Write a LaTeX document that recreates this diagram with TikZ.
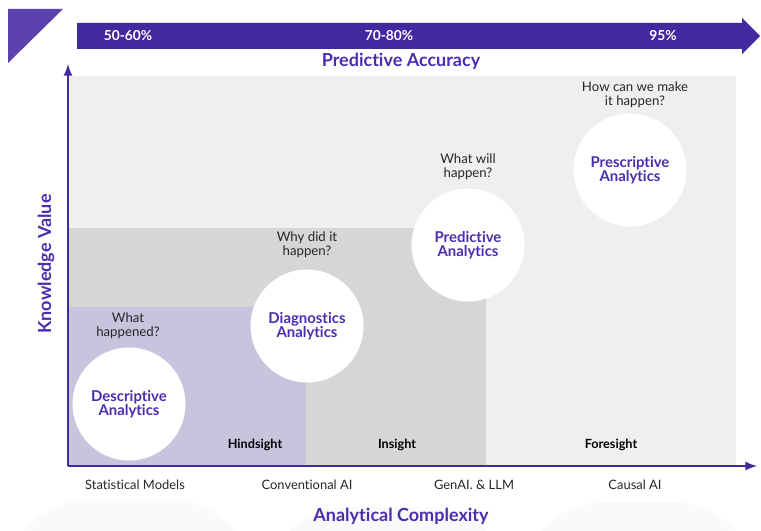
\documentclass[tikz,border=0pt]{standalone}
\usepackage{fontspec}
\setmainfont{Lato}[Ligatures={NoCommon}]
\usepackage{tikz}
\usetikzlibrary{arrows,positioning}
\definecolor{bar1}{RGB}{66,41,160}
\definecolor{bar2}{RGB}{91,66,172}
\definecolor{txt1}{RGB}{75,45,176}
\definecolor{bg1}{RGB}{239,239,239}
\definecolor{bg2}{RGB}{214,214,214}
\definecolor{bg3}{RGB}{202,195,221}
\definecolor{bg4}{RGB}{250,250,250}

\begin{document}
\begin{tikzpicture}[x=0.025cm,y=-0.025cm,
		bubble/.style={circle,fill=white,minimum size=113*0.025cm,inner sep=0pt,align=center,text=txt1,font=\fontsize{10.6}{10}\selectfont\bfseries},
		quest/.style={align=center,font=\fontsize{9.4}{10}\selectfont,text=black!85},
		zone/.style={font=\fontsize{9}{10}\selectfont\bfseries},
		model/.style={font=\fontsize{9.2}{10}\selectfont,text=black!85},
		pct/.style={font=\fontsize{9.8}{10}\selectfont\bfseries,text=white},
		axtitle/.style={font=\fontsize{12.8}{14}\selectfont\bfseries,text=txt1}]
		\useasboundingbox (0,0) rectangle (761,531);
		% faint shapes at the bottom
		\begin{scope}
		\clip (0,0) rectangle (761,531);
		\fill[bg4,rounded corners=60] (5,500) -- (255,500) -- (255,620) -- (5,620) -- cycle;
		\fill[bg4,rounded corners=60] (264,507) -- (512,507) -- (512,620) -- (264,620) -- cycle;
		\fill[bg4,rounded corners=60] (521,502) -- (757,502) -- (757,620) -- (521,620) -- cycle;
		\end{scope}
		% corner mark and accuracy bar
		\fill[bar2] (8,9) -- (63,9) -- (8,63) -- cycle;
		\fill[bar1] (77,23) -- (742,23) -- (742,18) -- (760,36) -- (742,54) -- (742,49) -- (77,49) -- cycle;
		\node[pct] (p1) at (128,36) {50-60\%};
		\node[pct] (p2) at (389,36) {70-80\%};
		\node[pct] (p3) at (663,36) {95\%};
		\node[axtitle] (acc) at (401,61) {Predictive Accuracy};
		% zones
		\fill[bg1] (68,76) rectangle (736,466);
		\fill[bg2] (68,228) rectangle (486,466);
		\fill[bg3] (68,307) rectangle (306,466);
		% axes
		\coordinate (O) at (68,466);
		\coordinate (ytop) at (68,64);
		\coordinate (xend) at (757,466);
		\draw[bar1,line width=1.8pt,-latex] (O) -- (ytop);
		\draw[bar1,line width=1.8pt,-latex] (O) -- (xend);
		\node[axtitle,rotate=90] (kv) at (46,264) {Knowledge Value};
		\node[axtitle] (ac) at (401,516) {Analytical Complexity};
		% analytics bubbles
		\node[bubble] (desc) at (129,404) {Descriptive\\Analytics};
		\node[bubble] (diag) at (307,326) {Diagnostics\\Analytics};
		\node[bubble] (pred) at (468,245) {Predictive\\Analytics};
		\node[bubble] (pres) at (630,170) {Prescriptive\\Analytics};
		\node[quest] (q1) at (128,326) {What\\happened?};
		\node[quest] (q2) at (307,245) {Why did it\\happen?};
		\node[quest] (q3) at (468,167) {What will\\happen?};
		\node[quest] (q4) at (635,95) {How can we make\\it happen?};
		% sight labels
		\node[zone] (hind) at (255,445) {Hindsight};
		\node[zone] (ins) at (397,445) {Insight};
		\node[zone] (fore) at (611,445) {Foresight};
		% models
		\node[model] (m1) at (135,485) {Statistical Models};
		\node[model] (m2) at (307,485) {Conventional AI};
		\node[model] (m3) at (474,485) {GenAI. \& LLM};
		\node[model] (m4) at (635,485) {Causal AI};
\end{tikzpicture}
\end{document}
